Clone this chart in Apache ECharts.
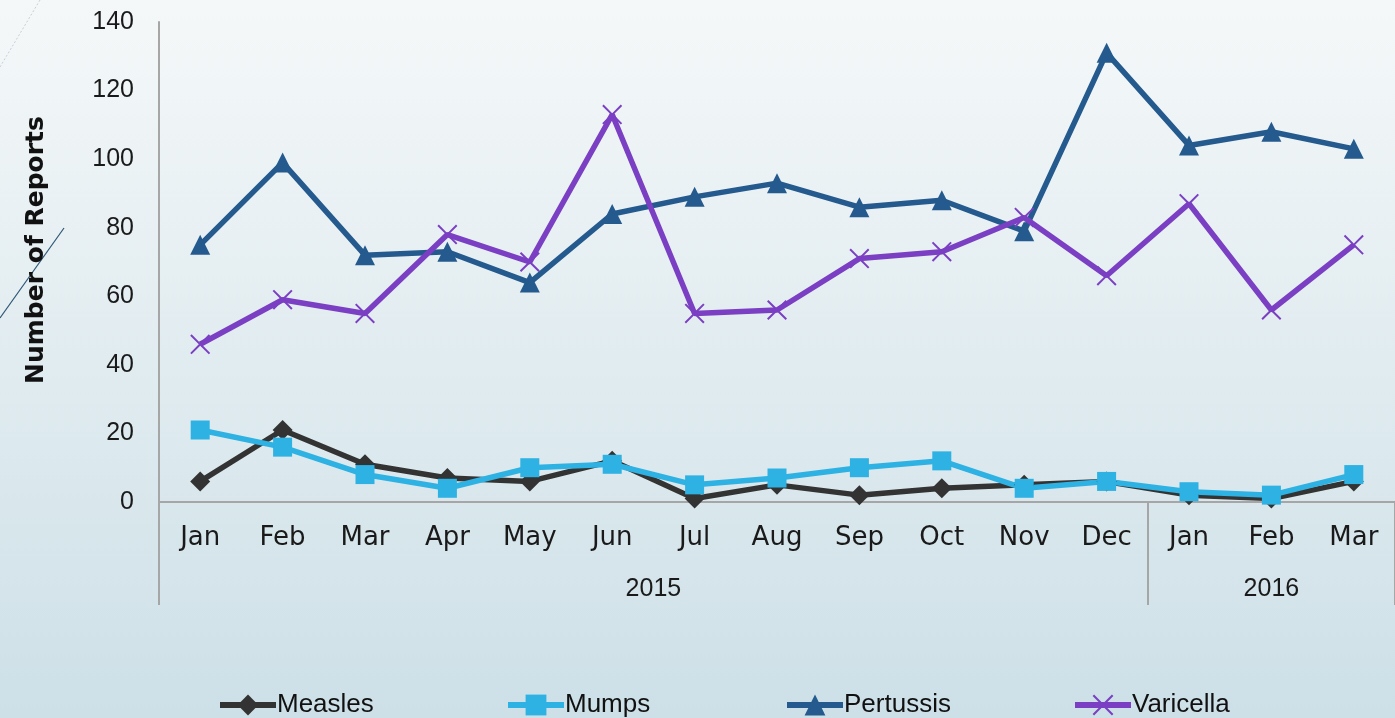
<!DOCTYPE html>
<html>
<head>
<meta charset="utf-8">
<script src="https://cdn.jsdelivr.net/npm/echarts@6/dist/echarts.min.js"></script>
<style>
  html, body { margin: 0; padding: 0; }
  #chart { width: 1395px; height: 718px; }
</style>
</head>
<body>
<div id="chart"></div>
<script>
const months = ['Jan','Feb','Mar','Apr','May','Jun','Jul','Aug','Sep','Oct','Nov','Dec','Jan','Feb','Mar'];
const years = ['2015', '2016'];
const yearSpans = [12, 3];
const yTicks = [0, 20, 40, 60, 80, 100, 120, 140];

const seriesNames = ['Measles', 'Mumps', 'Pertussis', 'Varicella'];
const measles   = [6, 21, 11, 7, 6, 12, 1, 5, 2, 4, 5, 6, 2, 1, 6];
const mumps     = [21, 16, 8, 4, 10, 11, 5, 7, 10, 12, 4, 6, 3, 2, 8];
const pertussis = [75, 99, 72, 73, 64, 84, 89, 93, 86, 88, 79, 131, 104, 108, 103];
const varicella = [46, 59, 55, 78, 70, 113, 55, 56, 71, 73, 83, 66, 87, 56, 75];

// year group boundaries and centres (in category units)
const yearBounds = [0];
const yearCentres = [];
yearSpans.forEach((s, i) => {
  const start = yearBounds[yearBounds.length - 1];
  yearCentres.push(start + s / 2);
  yearBounds.push(start + s);
});

const crossPath = 'path://M0,1.4L1.4,0L10,8.6L18.6,0L20,1.4L11.4,10L20,18.6L18.6,20L10,11.4L1.4,20L0,18.6L8.6,10Z';

const chart = echarts.init(document.getElementById('chart'));
const monthFont = 'DejaVu Sans';
const numFont = 'Liberation Sans';
const gray = '#a6a6a6';
const legendLefts = [212, 500, 779, 1067];

function lineSeries(name, data, color, symbol, size) {
  return {
    name: name,
    type: 'line',
    data: data,
    symbol: symbol,
    symbolSize: size,
    showAllSymbol: true,
    lineStyle: { width: 5.5, color: color },
    itemStyle: { color: color },
    emphasis: { disabled: true },
    animation: false
  };
}

chart.setOption({
  backgroundColor: {
    type: 'linear', x: 0, y: 0, x2: 0, y2: 1,
    colorStops: [
      { offset: 0, color: '#f5f8f9' },
      { offset: 1, color: '#cde0e7' }
    ]
  },
  animation: false,
  graphic: [
    { type: 'line', shape: { x1: 0, y1: 318, x2: 64, y2: 228 },
      style: { stroke: '#2d5676', lineWidth: 1.2 }, silent: true },
    { type: 'line', shape: { x1: 0, y1: 67, x2: 40, y2: 0 },
      style: { stroke: '#c6d0d6', lineWidth: 1, lineDash: [2, 2] }, silent: true }
  ],
  legend: seriesNames.map((n, i) => ({
    left: legendLefts[i],
    top: 687,
    itemWidth: 56,
    itemHeight: 26,
    lineStyle: { width: 6 },
    textStyle: { fontFamily: 'Liberation Sans', fontSize: 26, color: '#111', padding: [0, 0, 0, -4] },
    data: [n]
  })),
  grid: { left: 159, top: 22, width: 1242, bottom: 216, containLabel: false },
  xAxis: [
    {
      type: 'category',
      data: months,
      boundaryGap: true,
      axisLine: { show: true, lineStyle: { color: gray, width: 2 } },
      axisTick: { show: false },
      axisLabel: { fontFamily: monthFont, fontSize: 26, color: '#1a1a1a', margin: 23, interval: 0 },
      splitLine: { show: false }
    },
    {
      type: 'value',
      position: 'bottom',
      min: 0,
      max: months.length,
      axisLine: { show: false },
      axisTick: {
        show: true, length: 103, inside: false,
        customValues: yearBounds,
        lineStyle: { color: gray, width: 2 }
      },
      axisLabel: {
        show: true, margin: 75,
        customValues: yearCentres,
        formatter: function (v) {
          const i = yearCentres.indexOf(v);
          return i >= 0 ? years[i] : '';
        },
        fontFamily: numFont, fontSize: 25, color: '#1a1a1a'
      },
      splitLine: { show: false }
    }
  ],
  yAxis: {
    type: 'value',
    min: yTicks[0],
    max: yTicks[yTicks.length - 1],
    interval: yTicks[1] - yTicks[0],
    name: 'Number of Reports',
    nameLocation: 'middle',
    nameGap: 110,
    nameTextStyle: { fontFamily: monthFont, fontSize: 25, fontWeight: 'bold', color: '#111', padding: [0, 0, 0, 24] },
    axisLine: { show: true, lineStyle: { color: gray, width: 2 } },
    axisTick: { show: false },
    splitLine: { show: false },
    axisLabel: { fontFamily: numFont, fontSize: 25, color: '#1a1a1a', margin: 25 }
  },
  series: [
    lineSeries('Measles', measles, '#333333', 'diamond', [20, 20]),
    lineSeries('Mumps', mumps, '#2eb2e3', 'rect', 19),
    lineSeries('Pertussis', pertussis, '#245a8e', 'triangle', 20),
    lineSeries('Varicella', varicella, '#7b3fc3', crossPath, 20)
  ]
});
</script>
</body>
</html>
